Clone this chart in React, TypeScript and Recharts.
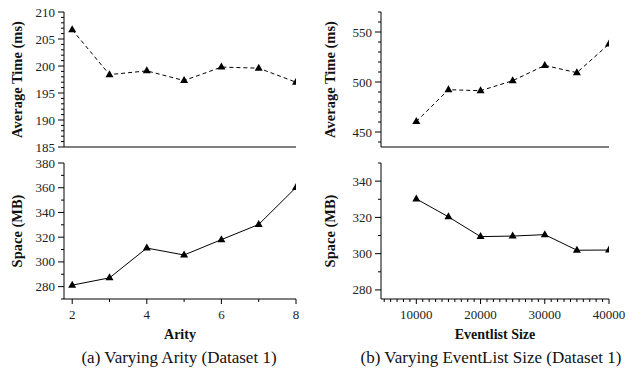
import React from "react";
import { Line, LineChart, XAxis, YAxis } from "recharts";

// Varying arity (dataset 1)
const arity = [2, 3, 4, 5, 6, 7, 8];
const arityTime = [206.7, 198.4, 199.1, 197.3, 199.8, 199.6, 197.0];
const aritySpace = [281.2, 287.1, 311.2, 305.6, 318.0, 330.3, 360.2];

// Varying eventlist size (dataset 1)
const eventListSize = [10000, 15000, 20000, 25000, 30000, 35000, 40000];
const eventTime = [460.5, 492.3, 491.3, 501.3, 516.6, 509.3, 538.0];
const eventSpace = [330.2, 320.3, 309.4, 309.7, 310.5, 301.9, 302.0];

// major (labelled) ticks
const arityLabels = [2, 4, 6, 8];
const arityTimeLabels = [185, 190, 195, 200, 205, 210];
const aritySpaceLabels = [280, 300, 320, 340, 360, 380];
const sizeLabels = [10000, 20000, 30000, 40000];
const sizeTimeLabels = [450, 500, 550];
const sizeSpaceLabels = [280, 300, 320, 340];

const FONT = "Liberation Serif, Times New Roman, Times, DejaVu Serif, serif";

const steps = (from: number, to: number, step: number) => {
  const out: number[] = [];
  for (let v = from; v <= to + 1e-9; v += step) out.push(Math.round(v * 1000) / 1000);
  return out;
};

const isIn = (list: number[], v: number) => list.some((m) => Math.abs(m - v) < 1e-6);

const makeYTick = (labels: number[]) => (props: any) => {
  const { x, y, payload } = props;
  const major = isIn(labels, payload.value);
  return (
    <g>
      <line x1={x - (major ? 6 : 3)} x2={x} y1={y} y2={y} stroke="#000" />
      {major && (
        <text x={x - 9} y={y} dy="0.35em" textAnchor="end" style={{ fontFamily: FONT }} fontSize={13} fill="#222">
          {payload.value}
        </text>
      )}
    </g>
  );
};

const makeXTick = (labels: number[]) => (props: any) => {
  const { x, y, payload } = props;
  const major = isIn(labels, payload.value);
  return (
    <g>
      <line x1={x} x2={x} y1={y} y2={y + (major ? 5 : 3)} stroke="#000" />
      {major && (
        <text x={x} y={y + 20} textAnchor="middle" style={{ fontFamily: FONT }} fontSize={13} fill="#222">
          {payload.value}
        </text>
      )}
    </g>
  );
};

const yTitle = (text: string, offset: number) => (props: any) => {
  const vb = props.viewBox || { x: 0, y: 0, width: 0, height: 0 };
  const cx = vb.x + vb.width - offset;
  const cy = vb.y + vb.height / 2;
  return (
    <text
      x={cx}
      y={cy}
      transform={`rotate(-90 ${cx} ${cy})`}
      textAnchor="middle"
      style={{ fontFamily: FONT }}
      fontWeight="bold"
      fontSize={14.5}
      fill="#111"
    >
      {text}
    </text>
  );
};

const xTitle = (text: string) => (props: any) => {
  const vb = props.viewBox || { x: 0, y: 0, width: 0, height: 0 };
  return (
    <text
      x={vb.x + vb.width / 2}
      y={vb.y + 40}
      textAnchor="middle"
      style={{ fontFamily: FONT }}
      fontWeight="bold"
      fontSize={14}
      fill="#111"
    >
      {text}
    </text>
  );
};

const Triangle = (props: any) => {
  const { cx, cy, index } = props;
  if (cx == null || cy == null) return <g key={index} />;
  return <path key={index} d={`M${cx},${cy - 4.5} L${cx + 4},${cy + 2.5} L${cx - 4},${cy + 2.5} Z`} fill="#000" />;
};

const toRows = (xs: number[], ys: number[]) => xs.map((x, i) => ({ x, y: ys[i] }));

interface PanelProps {
  left: number;
  top: number;
  width: number;
  height: number;
  marginTop: number;
  marginRight: number;
  yWidth: number;
  xHeight: number;
  xs: number[];
  ys: number[];
  xDomain: [number, number];
  xTicks?: number[];
  xLabels?: number[];
  xLabel?: string;
  yDomain: [number, number];
  yTicks: number[];
  yLabels: number[];
  yLabel: string;
  yLabelOffset: number;
  dashed?: boolean;
}

function Panel(p: PanelProps) {
  const showX = !!p.xTicks;
  return (
    <div style={{ position: "absolute", left: p.left, top: p.top }}>
      <LineChart
        width={p.width}
        height={p.height}
        data={toRows(p.xs, p.ys)}
        margin={{ top: p.marginTop, right: p.marginRight, bottom: 0, left: 0 }}
      >
        <XAxis
          dataKey="x"
          type="number"
          domain={p.xDomain}
          allowDataOverflow
          height={p.xHeight}
          stroke="#000"
          axisLine={{ stroke: "#000" }}
          ticks={showX ? p.xTicks : []}
          interval={0}
          tickSize={0}
          tickMargin={0}
          tickLine={false}
          tick={showX ? makeXTick(p.xLabels || []) : false}
          label={p.xLabel ? { value: p.xLabel, content: xTitle(p.xLabel) } : undefined}
        />
        <YAxis
          type="number"
          domain={p.yDomain}
          allowDataOverflow
          width={p.yWidth}
          axisLine={{ stroke: "#000" }}
          ticks={p.yTicks}
          interval={0}
          tickSize={0}
          tickMargin={0}
          tickLine={false}
          tick={makeYTick(p.yLabels)}
          label={{ value: p.yLabel, content: yTitle(p.yLabel, p.yLabelOffset) }}
        />
        <Line
          dataKey="y"
          type="linear"
          stroke="#000"
          strokeWidth={1}
          strokeDasharray={p.dashed ? "4 3" : undefined}
          dot={Triangle}
          activeDot={false}
          isAnimationActive={false}
        />
      </LineChart>
    </div>
  );
}

const captionStyle: React.CSSProperties = {
  position: "absolute",
  top: 349,
  fontFamily: FONT,
  fontSize: 17,
  lineHeight: "17px",
  textAlign: "center",
  color: "#111",
  whiteSpace: "nowrap",
};

export default function App() {
  return (
    <div style={{ position: "absolute", left: 0, top: 0, width: 642, height: 373, background: "#fff", overflow: "hidden" }}>
      <Panel
        left={0}
        top={0}
        width={310}
        height={160}
        marginTop={12}
        marginRight={14}
        yWidth={64}
        xHeight={13}
        xs={arity}
        ys={arityTime}
        xDomain={[1.78, 8]}
        yDomain={[185, 210]}
        yTicks={steps(185, 210, 1)}
        yLabels={arityTimeLabels}
        yLabel="Average Time (ms)"
        yLabelOffset={42}
        dashed
      />
      <Panel
        left={0}
        top={150}
        width={310}
        height={223}
        marginTop={13}
        marginRight={14}
        yWidth={64}
        xHeight={74}
        xs={arity}
        ys={aritySpace}
        xDomain={[1.78, 8]}
        xTicks={arity}
        xLabels={arityLabels}
        xLabel="Arity"
        yDomain={[270, 380]}
        yTicks={steps(270, 380, 10)}
        yLabels={aritySpaceLabels}
        yLabel="Space (MB)"
        yLabelOffset={42}
      />
      <Panel
        left={321}
        top={0}
        width={321}
        height={160}
        marginTop={12}
        marginRight={33}
        yWidth={60}
        xHeight={13}
        xs={eventListSize}
        ys={eventTime}
        xDomain={[4500, 40000]}
        yDomain={[435, 570]}
        yTicks={steps(440, 570, 10)}
        yLabels={sizeTimeLabels}
        yLabel="Average Time (ms)"
        yLabelOffset={46}
        dashed
      />
      <Panel
        left={321}
        top={150}
        width={321}
        height={223}
        marginTop={13}
        marginRight={33}
        yWidth={60}
        xHeight={74}
        xs={eventListSize}
        ys={eventSpace}
        xDomain={[4500, 40000]}
        xTicks={steps(5000, 40000, 1000)}
        xLabels={sizeLabels}
        xLabel="Eventlist Size"
        yDomain={[275, 350]}
        yTicks={steps(280, 350, 10)}
        yLabels={sizeSpaceLabels}
        yLabel="Space (MB)"
        yLabelOffset={46}
      />
      <div style={{ ...captionStyle, left: 0, width: 358 }}>(a) Varying Arity (Dataset 1)</div>
      <div style={{ ...captionStyle, left: 321, width: 340 }}>(b) Varying EventList Size (Dataset 1)</div>
    </div>
  );
}
